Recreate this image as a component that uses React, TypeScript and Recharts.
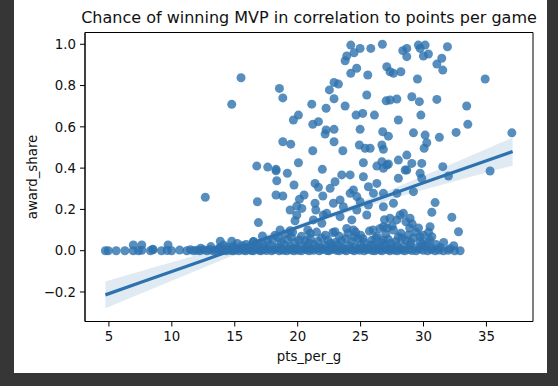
import React from 'react';
import { ComposedChart, Scatter, Line, Area, XAxis, YAxis, ReferenceArea } from 'recharts';

// Regression fit
const fitPts = [4.72, 7.5, 10, 12.5, 15, 17.5, 20, 22.5, 25, 27.5, 30, 32.5, 35, 37.08];
const fitShare = [-0.214, -0.154, -0.101, -0.047, 0.007, 0.06, 0.114, 0.168, 0.221, 0.275, 0.329, 0.382, 0.436, 0.48];
const ciLow = [-0.279, -0.209, -0.146, -0.083, -0.02, 0.041, 0.101, 0.156, 0.205, 0.251, 0.295, 0.337, 0.379, 0.412];
const ciHigh = [-0.149, -0.099, -0.056, -0.011, 0.034, 0.079, 0.127, 0.18, 0.237, 0.299, 0.363, 0.427, 0.493, 0.548];

const xTicks = [5, 10, 15, 20, 25, 30, 35];
const yTicks = [-0.2, 0, 0.2, 0.4, 0.6, 0.8, 1.0];

// [pts_per_g, award_share]
const upperPlayers: [number, number][] = [
  [15.5, 0.838], [14.76, 0.709], [18.55, 0.786], [18.82, 0.74], [21.12, 0.71], [20.06, 0.657], [19.66, 0.633],
  [21.2, 0.612], [21.65, 0.625], [22.26, 0.69], [22.89, 0.736], [22.52, 0.779], [22.89, 0.815], [23.24, 0.807],
  [22.26, 0.585], [22.89, 0.588], [22.18, 0.565], [22.89, 0.528], [18.82, 0.528], [19.45, 0.516], [21.2, 0.484],
  [20.06, 0.426], [16.75, 0.41], [17.62, 0.405], [18.28, 0.394], [21.96, 0.394],
  [24.22, 0.996], [24.96, 0.98], [25.81, 0.98], [26.73, 1.0], [24.48, 0.959], [23.9, 0.943], [23.77, 0.92],
  [28.35, 0.969], [28.67, 0.94], [28.67, 0.98], [29.59, 0.996], [30.13, 0.996], [29.73, 0.98], [30.39, 0.953],
  [29.99, 0.943], [31.9, 0.988], [31.45, 0.932], [31.06, 0.904], [31.53, 0.875], [34.9, 0.832], [24.69, 0.884],
  [24.22, 0.859], [25.57, 0.851], [27.08, 0.891], [27.34, 0.867], [27.61, 0.859], [28.2, 0.867], [29.52, 0.832],
  [25.49, 0.754], [23.77, 0.701], [27.03, 0.726], [27.34, 0.73], [27.88, 0.735], [29.07, 0.746], [29.67, 0.722],
  [31.06, 0.733], [33.43, 0.701], [24.64, 0.657], [25.17, 0.665], [26.1, 0.657], [28.0, 0.633], [29.79, 0.657],
  [33.52, 0.612], [24.96, 0.588], [26.76, 0.576], [27.21, 0.555], [29.2, 0.571], [30.13, 0.56], [31.26, 0.549],
  [32.59, 0.573], [24.9, 0.512], [25.36, 0.496], [25.76, 0.496], [26.69, 0.512], [26.81, 0.491], [23.59, 0.484],
  [30.26, 0.523], [30.05, 0.496], [25.22, 0.426], [26.29, 0.41], [26.69, 0.431], [27.21, 0.42], [28.0, 0.439],
  [28.67, 0.463], [29.07, 0.423], [29.86, 0.423], [31.53, 0.407], [37.02, 0.571], [26.81, 0.399], [27.08, 0.415],
  [28.54, 0.391], [28.67, 0.391], [35.29, 0.386],
];

const midPlayers: [number, number][] = [
  [12.66, 0.259], [18.28, 0.387], [19.18, 0.375], [18.34, 0.339], [19.71, 0.318], [21.38, 0.326], [21.65, 0.307],
  [18.28, 0.27], [18.82, 0.265], [20.51, 0.27], [20.14, 0.249], [22.0, 0.265], [16.8, 0.237], [19.93, 0.216],
  [19.4, 0.197], [20.33, 0.205], [21.44, 0.197], [19.93, 0.173], [19.79, 0.145], [16.88, 0.136], [21.92, 0.133],
  [18.6, 0.1], [19.4, 0.097], [20.99, 0.084],
  [22.97, 0.334], [23.5, 0.367], [24.17, 0.367], [25.22, 0.358], [26.29, 0.326], [25.62, 0.31], [22.58, 0.302],
  [24.43, 0.294], [24.7, 0.262], [26.02, 0.278], [26.81, 0.278], [28.0, 0.351], [27.88, 0.278], [29.2, 0.286],
  [29.73, 0.375], [22.84, 0.23], [23.63, 0.213], [24.96, 0.237], [25.62, 0.221], [26.81, 0.213], [27.61, 0.23],
  [30.92, 0.233], [30.66, 0.186], [32.25, 0.162], [32.78, 0.092], [28.14, 0.173], [30.52, 0.116], [26.55, 0.108],
  [24.43, 0.1], [22.97, 0.092], [22.04, 0.173], [24.3, 0.149], [23.37, 0.165], [29.86, 0.351], [31.98, 0.362],
  [28.93, 0.157], [28.4, 0.181], [27.88, 0.149], [21.38, 0.23], [23.37, 0.246], [24.17, 0.278], [21.25, 0.149],
  [22.31, 0.181], [24.7, 0.197], [25.49, 0.173], [23.9, 0.108], [26.81, 0.116], [27.34, 0.157],
];

const lowPlayers: [number, number][] = [
  [4.72, 0], [4.95, 0], [5.58, 0], [6.27, 0], [6.93, 0], [7.35, 0], [7.62, 0.002], [8.3, 0], [8.52, 0.004],
  [9.18, 0], [9.63, 0.001], [9.98, 0], [10.62, 0.003], [11.19, 0], [11.47, 0.005], [11.73, 0], [11.98, 0.002],
  [12.23, 0], [12.51, 0.004], [12.79, 0], [13.02, 0.006], [13.28, 0], [13.51, 0.002], [13.72, 0.008], [13.94, 0],
  [14.13, 0.003], [14.35, 0], [14.52, 0.007], [14.74, 0.001], [14.91, 0], [15.12, 0.005], [15.33, 0], [15.48, 0.009],
  [15.71, 0.002], [15.88, 0], [16.09, 0.006], [16.32, 0.001], [16.47, 0], [16.71, 0.008], [16.93, 0.002], [17.08, 0],
  [17.31, 0.006], [17.52, 0.001], [17.69, 0.01], [17.92, 0], [18.11, 0.004], [18.29, 0.009], [18.53, 0],
  [18.72, 0.006], [18.88, 0.002], [19.13, 0], [19.31, 0.011], [19.49, 0.003], [19.72, 0], [19.93, 0.008],
  [20.08, 0.002], [20.31, 0], [20.52, 0.01], [20.69, 0.004], [20.91, 0], [21.12, 0.007], [21.28, 0.002],
  [21.53, 0.012], [21.71, 0], [21.92, 0.005], [22.09, 0.009], [22.33, 0.001], [22.48, 0], [22.71, 0.006],
  [22.93, 0.011], [23.08, 0.002], [23.29, 0], [23.52, 0.008], [23.71, 0.003], [23.88, 0], [24.12, 0.01],
  [24.31, 0.004], [24.49, 0], [24.73, 0.007], [24.92, 0.002], [25.11, 0.012], [25.28, 0], [25.52, 0.005],
  [25.69, 0.009], [25.91, 0.001], [26.13, 0], [26.29, 0.008], [26.52, 0.003], [26.71, 0], [26.92, 0.011],
  [27.11, 0.004], [27.33, 0], [27.49, 0.007], [27.72, 0.002], [27.93, 0], [28.12, 0.009], [28.31, 0.003],
  [28.52, 0], [28.83, 0.006], [29.08, 0.001], [29.41, 0], [29.68, 0.008], [29.97, 0.002], [30.32, 0],
  [30.61, 0.005], [30.92, 0], [31.23, 0.003], [31.58, 0], [31.97, 0.002], [32.48, 0], [32.91, 0],
  [12.3, 0.012], [13.1, 0.02], [13.8, 0.015], [14.4, 0.018], [15.0, 0.012], [15.6, 0.024], [16.2, 0.016],
  [16.7, 0.022], [17.3, 0.014], [17.8, 0.026], [18.4, 0.018], [18.9, 0.03], [19.4, 0.02], [19.9, 0.013],
  [20.4, 0.027], [20.8, 0.018], [21.3, 0.03], [21.8, 0.015], [22.2, 0.025], [22.7, 0.02], [23.2, 0.03],
  [23.6, 0.014], [24.1, 0.024], [24.6, 0.018], [25.0, 0.03], [25.5, 0.012], [26.0, 0.026], [26.4, 0.02],
  [26.9, 0.03], [27.4, 0.016], [27.9, 0.025], [28.4, 0.02], [28.9, 0.028], [29.5, 0.014], [30.1, 0.022],
  [30.7, 0.012], [31.32, 0.016], [32.1, 0.01],
  [6.94, 0.028], [7.61, 0.028], [9.7, 0.028], [8.48, 0.007], [13.85, 0.046], [14.76, 0.046], [16.48, 0.044],
  [15.2, 0.035], [16.5, 0.044], [17.2, 0.038], [18.0, 0.05], [18.7, 0.042], [19.2, 0.055], [19.8, 0.04],
  [20.6, 0.048], [21.0, 0.06], [21.6, 0.045], [22.4, 0.052], [23.0, 0.04], [23.8, 0.058], [24.3, 0.045],
  [24.8, 0.06], [25.3, 0.04], [25.9, 0.05], [26.6, 0.042], [27.2, 0.055], [27.8, 0.045], [28.3, 0.06],
  [29.0, 0.04], [29.73, 0.044], [30.3, 0.038], [31.0, 0.03],
  [17.2, 0.071], [18.2, 0.075], [19.0, 0.08], [20.3, 0.07], [21.5, 0.09], [22.2, 0.075], [23.3, 0.07],
  [24.0, 0.085], [25.0, 0.075], [25.7, 0.095], [26.3, 0.07], [27.0, 0.08], [27.6, 0.1], [28.2, 0.085],
  [28.8, 0.076], [28.9, 0.11], [29.4, 0.09], [30.0, 0.075], [30.66, 0.068], [29.73, 0.068], [27.5, 0.12],
  [29.1, 0.13], [28.6, 0.14], [26.9, 0.15],
  [14.1, 0.028], [14.9, 0.022], [15.9, 0.03], [16.9, 0.034], [17.6, 0.05], [18.5, 0.062], [19.5, 0.066],
  [20.1, 0.052], [20.9, 0.038], [21.9, 0.062], [22.6, 0.036], [23.5, 0.048], [24.5, 0.066], [25.2, 0.058],
  [25.8, 0.028], [26.2, 0.06], [26.8, 0.052], [27.4, 0.036], [28.0, 0.068], [28.6, 0.05], [29.2, 0.062],
  [29.9, 0.03], [30.5, 0.05], [31.6, 0.04], [32.4, 0.024], [19.6, 0.09], [20.8, 0.1], [22.8, 0.088],
  [24.6, 0.09], [26.0, 0.1], [27.1, 0.11], [29.6, 0.11], [30.4, 0.09],
];

const regression = fitPts.map((x, i) => ({ x, fit: fitShare[i], ci: [ciLow[i], ciHigh[i]] }));
const players = [...lowPlayers, ...midPlayers, ...upperPlayers].map(([x, y]) => ({ x, y }));

const BLUE = '#2d72ae';
const FONT = '"DejaVu Sans", sans-serif';
const X_DOMAIN: [number, number] = [3.1, 38.7];
const Y_DOMAIN: [number, number] = [-0.343, 1.057];

const Dot = (props: any) => (
  <circle cx={props.cx} cy={props.cy} r={4.5} fill={BLUE} fillOpacity={0.8} />
);

const fmtY = (v: number) => (v === 0 ? '0.0' : v.toFixed(1).replace('-', '\u2212'));

export default function App() {
  return (
    <div style={{ position: 'absolute', left: 0, top: 0, width: 558, height: 386, background: '#363636' }}>
      <div style={{ position: 'absolute', left: 14, top: 0, width: 533, height: 373, background: '#ffffff' }} />
      <div style={{ position: 'absolute', left: 0, top: 0 }}>
        <ComposedChart
          width={558}
          height={386}
          data={regression}
          margin={{ top: 32.5, right: 25, bottom: 24.5, left: 25 }}
        >
          <XAxis
            type="number"
            dataKey="x"
            domain={X_DOMAIN}
            ticks={xTicks}
            interval={0}
            allowDataOverflow
            height={40}
            tickSize={5}
            tickMargin={5}
            stroke="#000"
            tick={{ fill: '#111', fontSize: 13.33, fontFamily: FONT }}
          />
          <YAxis
            type="number"
            domain={Y_DOMAIN}
            ticks={yTicks}
            interval={0}
            allowDataOverflow
            width={60}
            tickSize={5}
            tickMargin={4}
            tickFormatter={fmtY}
            stroke="#000"
            tick={{ fill: '#111', fontSize: 13.33, fontFamily: FONT }}
          />
          <Scatter data={players} dataKey="y" shape={Dot} isAnimationActive={false} />
          <Area
            dataKey="ci"
            type="monotone"
            stroke="none"
            fill={BLUE}
            fillOpacity={0.15}
            isAnimationActive={false}
            activeDot={false}
          />
          <Line
            dataKey="fit"
            type="linear"
            stroke={BLUE}
            strokeWidth={3.2}
            dot={false}
            activeDot={false}
            isAnimationActive={false}
          />
          <ReferenceArea
            x1={X_DOMAIN[0]}
            x2={X_DOMAIN[1]}
            y1={Y_DOMAIN[0]}
            y2={Y_DOMAIN[1]}
            fill="none"
            fillOpacity={0}
            stroke="#000"
            strokeWidth={1}
            ifOverflow="visible"
          />
          <text x={309} y={23} textAnchor="middle" fontSize={16} fontFamily={FONT} fill="#111">
            Chance of winning MVP in correlation to points per game
          </text>
          <text x={309} y={361} textAnchor="middle" fontSize={13.33} fontFamily={FONT} fill="#111">
            pts_per_g
          </text>
          <text
            x={36.5}
            y={177}
            textAnchor="middle"
            fontSize={13.33}
            fontFamily={FONT}
            fill="#111"
            transform="rotate(-90 36.5 177)"
          >
            award_share
          </text>
        </ComposedChart>
      </div>
    </div>
  );
}
